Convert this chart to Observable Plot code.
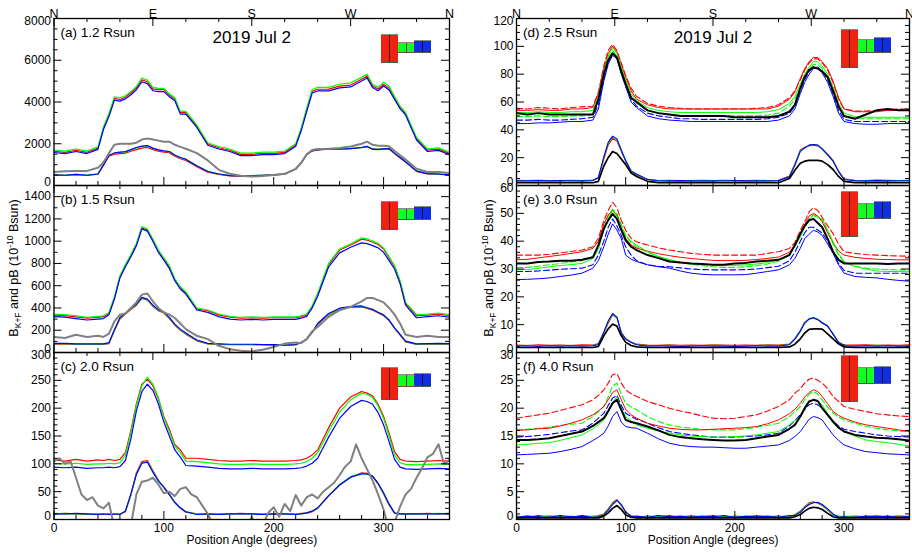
<!DOCTYPE html>
<html><head><meta charset="utf-8">
<script src="https://cdn.jsdelivr.net/npm/d3@7"></script>
<script src="https://cdn.jsdelivr.net/npm/@observablehq/plot@0.6"></script>
<style>
body{margin:0;background:#fff;font-family:"Liberation Sans",Arial,sans-serif;}
#wrap{position:relative;width:912px;height:553px;overflow:hidden;background:#fff;}
#wrap svg{position:absolute;left:0;top:0;}
.icon{position:absolute;box-sizing:border-box;border-top:1px solid #8a8a8a;border-bottom:1px solid #555;}
.icon i{position:absolute;left:50%;top:0;bottom:0;width:1px;background:rgba(0,0,0,0.65);}
</style></head><body><div id="wrap"></div>
<script>
// ---------- position-angle grids ----------
const XL = [0,10,20,30,40, 45,50,55,60,65,70,75,80,85,90,95,100,105,110,115,120, 130,140,150,160,170,180,190,200,210,220, 225,230,235,240, 250,260,270,280, 285,290,295,300,305,310,315,320, 330,340,350,360];
const XR = [0,10,20,30,40,50,60,70, 75,80,84,88,92,96,100,105,110, 120,130,140,150,160,170,180,190,200,210,220,230,240,250, 255,260,264,268,272,276,280,285,290,295,300, 310,320,330,340,350,360];
const X5 = [0,5,10,15,20,25,30,35,40,45,50,55,60,65,70,75,80,85,90,95,100,105,110,115,120,125,130,135,140,145,150,155,160,165,170,175,180,185,190,195,200,205,210,215,220,225,230,235,240,245,250,255,260,265,270,275,280,285,290,295,300,305,310,315,320,325,330,335,340,345,350,355,360];

// ---------- (a) 1.2 Rsun ----------
const aR = [1640,1590,1690,1590,1790, 2740,3380,4170,4120,4230,4430,4680,5060,4970,4630,4590,4590,4340,4140,3490,3490, 2840,1990,1810,1690,1490,1490,1540,1540,1590,1940, 2690,3620,4510,4610, 4620,4760,4810,5090, 5240,4770,4620,4850,4660,4200,3740,3440, 2240,1690,1740,1540];
const aG = [1700,1650,1750,1650,1850, 2800,3450,4250,4200,4300,4500,4750,5150,5050,4700,4650,4650,4400,4200,3550,3550, 2900,2050,1870,1750,1550,1550,1600,1600,1650,2000, 2750,3700,4600,4700, 4700,4850,4920,5180, 5330,4850,4700,4950,4750,4270,3800,3500, 2300,1750,1800,1600];
const aB = [1580,1530,1630,1530,1730, 2680,3300,4090,4040,4150,4350,4590,4970,4880,4540,4500,4500,4250,4060,3420,3420, 2780,1930,1750,1630,1430,1430,1480,1480,1530,1880, 2620,3540,4430,4530, 4530,4680,4720,5010, 5150,4690,4540,4770,4580,4120,3680,3380, 2180,1630,1680,1480];
const aLR = [500,480,520,480,540, 960,1400,1500,1530,1550,1640,1720,1790,1820,1720,1650,1600,1570,1400,1280,1200, 900,640,530,460,450,460,480,500,540,780, 1070,1470,1650,1700, 1740,1740,1760,1810, 1860,1730,1720,1740,1760,1530,1320,1120, 680,560,540,500];
const aLG = [520,500,540,500,560, 1000,1450,1550,1580,1600,1700,1800,1870,1900,1780,1700,1650,1620,1450,1330,1250, 950,680,560,480,470,480,500,520,560,800, 1100,1500,1680,1720, 1760,1760,1780,1830, 1880,1750,1740,1760,1780,1550,1350,1150, 700,580,560,520];
const aLB = [510,490,530,490,550, 990,1440,1560,1600,1620,1720,1820,1890,1910,1790,1710,1660,1630,1460,1340,1260, 950,670,550,470,460,470,490,510,550,790, 1090,1490,1670,1710, 1750,1750,1770,1820, 1870,1740,1730,1750,1770,1540,1340,1140, 690,570,550,510];
const aGray = [650,680,700,700,850, 1100,1550,1950,2000,2000,2000,2050,2200,2250,2200,2150,2100,2100,1950,1850,1760, 1550,1200,750,560,470,430,450,500,560,800, 1080,1500,1700,1750, 1760,1800,1870,2000, 2100,1950,1900,1900,1880,1650,1450,1250, 800,650,650,600];

// ---------- (b) 1.5 Rsun ----------
const bR = [335,332,320,308,315, 322,350,490,680,780,870,970,1120,1100,1010,910,840,765,655,580,535, 392,375,338,318,308,312,308,312,312,312, 322,338,410,520, 790,920,965,1018, 1010,990,970,930,850,770,635,440, 332,336,345,332];
const bG = [345,340,330,315,325, 330,360,500,690,790,880,980,1130,1110,1020,920,850,780,660,590,545, 400,382,346,325,315,320,315,320,320,320, 330,345,420,530, 800,930,975,1030, 1020,1000,980,940,860,780,645,450, 340,345,355,340];
const bB = [322,318,305,292,300, 305,338,480,670,770,860,960,1110,1090,1000,900,830,755,645,570,525, 382,360,322,300,292,298,292,298,298,298, 308,325,400,505, 770,895,945,985, 978,960,940,900,825,750,620,425, 312,322,330,318];
const bLR = [76,77,72,72,72, 72,80,195,300,345,385,425,485,470,415,375,355,305,245,200,165, 105,77,72,70,70,70,68,66,63,68, 88,118,178,252, 340,390,405,410, 396,380,356,330,286,216,156,96, 72,75,77,75];
const bLG = [80,80,75,75,75, 75,85,200,310,350,390,430,490,475,420,380,360,310,250,205,170, 110,80,75,72,72,72,70,68,65,70, 90,120,180,257, 345,395,410,415, 400,385,360,335,290,220,160,100, 75,78,80,78];
const bLB = [82,82,78,77,77, 77,88,205,315,355,395,435,495,480,425,385,365,315,255,210,175, 112,82,77,74,74,74,72,70,67,72, 92,122,182,260, 350,398,412,418, 402,388,362,338,292,222,162,102, 78,80,82,80];
const bGray = [140,130,160,140,150, 140,170,280,340,350,400,450,520,530,460,400,360,340,310,260,210, 150,120,60,30,15,10,25,50,80,90, 85,120,190,230, 320,380,410,460, 490,490,470,450,400,340,260,160, 140,150,140,140];

// ---------- (c) 2.0 Rsun ----------
const cR = [107,105,108,105,107, 106,108,106,108,120,160,208,243,252,240,217,185,162,135,125,110, 110,108,106,105,105,106,105,105,105,106, 107,110,116,125, 165,200,220,230, 227,222,207,185,155,122,108,105, 104,105,106,105];
const cG = [101,100,101,99,100, 100,101,100,102,115,156,205,240,256,243,219,183,158,132,120,105, 104,102,100,99,99,100,99,99,99,100, 101,104,110,120, 158,193,215,227, 225,219,204,182,150,116,102,99, 98,99,100,99];
const cB = [94,93,94,92,93, 93,94,93,95,106,145,195,230,243,232,208,175,150,125,112,97, 96,94,92,91,91,92,91,91,91,92, 93,96,101,110, 148,182,203,214, 212,207,192,170,140,108,94,91, 90,91,92,91];
const cLR = [10,11,10,9,10, 9,10,9,10,14,44,84,104,106,88,71,57,44,30,20,13, 10,9,10,10,11,10,10,9,10,10, 11,11,14,20, 42,62,76,84, 83,77,64,46,26,11,10,9, 10,11,10,10];
const cLG = [11,10,10,10,10, 9,9,9,10,15,45,82,102,104,86,70,58,45,30,21,14, 10,10,10,10,10,10,10,10,10,10, 10,12,15,20, 43,63,77,83, 82,78,65,47,27,11,10,10, 10,10,11,10];
const cLB = [10,10,11,10,9, 10,9,10,9,15,46,81,101,103,85,69,58,45,31,21,14, 9,10,9,10,10,10,9,10,10,9, 10,12,15,21, 43,62,76,82, 82,78,65,48,28,12,10,10, 10,10,10,11];
// gray read on the 5-degree grid X5
const cGray = [105,110,100,105,75,45,35,40,25,20,30,-15,-30,-40,-10,45,68,70,75,63,47,50,42,55,58,45,40,25,10,-10,-30,-40,-25,-50,-30,-20,5,-20,-10,12,22,5,28,15,44,25,40,45,38,50,58,66,80,95,104,135,110,90,70,45,18,-20,-5,23,45,55,75,92,112,118,135,100,107];

// ---------- (d) 2.5 Rsun ----------
const dRS = [54,54,54.5,54,54,55,55,56, 66,84,95,100,96,87,78,68,62, 58,56,55,55,55,55,55,55,55,55,55,55,57,62, 67,77,84,89,92,92,89,84,75,63,55, 53,53,53,54,54,54];
const dRD = [55.5,55,56,55.5,55,56,56.5,57, 67,86,97,101.5,97,88,79,70,64, 59,57,56,55.5,55,55,55,55,55,55,55.5,56,58,63, 68,76,83,88,91,91,88,83,74,62,55, 53.5,53.5,54,54.5,55,55];
const dGS = [52.5,52.5,53,52.5,52.5,53,53,54, 64,82,93,99,95,85,76,66,61, 56,54,53,52.5,52.5,52.5,52.5,52.5,52.5,52.5,52.5,53,54.5,59, 64,73,80,85,89,89,86,80,71,59,52, 49.5,49,49,49,49,49];
const dGD = [49.5,49.5,50,49.5,49.5,50,50,51, 61,80,91,97,93,83,74,64,59, 54,52,51,50.5,50,50,50,50,50,50,50,50.5,52,57, 62,71,78,84,87,87,84,78,69,57,50, 48,48,48,48,48,48];
const dBS = [44.5,44.5,45,45,45.5,46,46,47, 55,75,87,93.5,91,80,71,60,56, 50,48,47,46.5,46,46,46,46,46,46,46,46,47,50, 55,66,74,80,84,84,81,74,64,52,46, 44.5,44,44,44.5,44.5,44.5];
const dBD = [47,47,47.5,47,47,47.5,48,49, 58,77,89,95,92,81,72,62,57, 52,50,49,48,48,47.5,47.5,47.5,47.5,47.5,47.5,48,49,52, 57,68,76,82,85,85,82,76,66,54,47.5, 46,46,46,46,46,46];
const dK = [52,51,52,51,51,51,51,51, 62,80,90,95,92,82,73,63,60, 54,52,51,50,50,50,50,50,49,49,49,49,50,53, 58,70,78,83,85,84,82,78,68,57,50, 48,51,54,55,54,54];
const dLR = [3.8,3.5,3.7,3.6,3.4,3.8,3.6,4, 5.2,19,29,34,32,24.5,17.5,9.5,7.5, 4.3,3.6,3.7,3.5,3.6,3.7,3.5,3.8,3.6,3.5,3.7,3.6,3.8,6.8, 15.5,25.5,27.5,28.5,29,28.5,26,22.5,18,10.5,4.8, 3.8,3.6,3.9,3.7,3.6,3.8];
const dLG = [3.5,3.6,3.4,3.5,3.5,3.6,3.5,3.8, 5.5,20,30,35,33,25,18,10,8, 4.5,3.5,3.5,3.6,3.4,3.5,3.5,3.6,3.5,3.4,3.5,3.5,3.6,6.5, 15,25,27,29,29.5,29,26,22,17.5,10,4.5, 3.5,3.6,3.5,3.4,3.5,3.6];
const dLB = [3.3,3.4,3.6,3.3,3.5,3.4,3.3,3.6, 5.8,20.5,31,35.5,33.5,25.5,18,10.5,8.2, 4.4,3.4,3.3,3.5,3.3,3.4,3.3,3.4,3.5,3.3,3.4,3.3,3.5,6.2, 14.5,24.5,27,29,29.5,29,26.5,22,17.5,10,4.3, 3.4,3.3,3.5,3.3,3.4,3.4];
const dLK = [2,2,2,2,2,2,2,2, 3,14,20,24.5,23,19,15,9,6.5, 3,2,2,2,2,2,2,2,2,2,2,2,2,5, 11,16,17.5,18,18,18,17.5,15,11.5,6.5,3, 2,2,2,2,2,2];

// ---------- (e) 3.0 Rsun ----------
const eRS = [33.3,33.5,34,34.5,35,35.6,36.2,37.4, 40,46.2,49.5,51,49.5,45,41,38.6,37.5, 36.4,35.5,34.8,34.2,33.8,33.4,33.1,33,33,33.1,33.4,33.8,34.3,36, 38.5,42.5,46,49,50,49,47,43,39.5,36.5,35, 34.2,33.8,33.5,33.4,33.3,33.3];
const eRD = [35,35,35,35.3,35.8,36.3,36.8,38, 41,47.4,51,54,52,47.5,43.9,41,39.8, 38.6,37.6,36.8,36.2,35.6,35.3,35,35,35,35,35,35.6,36.2,37.4, 39.5,43.9,47,50.5,52,51,48.6,45.5,42.7,39,36.2, 35.6,35.2,35,34.8,34.7,34.6];
const eGS = [29.7,29.8,30.2,30.8,31.2,31.6,32,33.8, 37,43.9,48,51,49,45,42.1,40,38.6, 36.2,34.5,33.3,32.5,32,31.7,31.5,31.3,31.3,31.5,31.8,32.3,33.3,35.3, 38,41.5,45,48,49.2,48.5,48,44,39.8,35.5,32.7, 30.9,30,29.3,29.1,29.1,29];
const eGD = [30.5,30.6,31,31.5,32,32.5,33,34.5, 38,45,49,51.5,50,46,42,39.5,38, 36,34.5,33.3,32.3,31.7,31.2,30.8,30.6,30.6,30.8,31.2,31.8,32.8,35, 38.2,42,45.5,48,49.5,49,47.5,43.5,39,35,32.5, 31,30.3,30,29.8,29.7,29.6];
const eBS = [26.2,26.3,26.5,26.8,27.3,27.8,28.5,30.3, 33,38,42.5,46.2,44,40.9,35,33.5,32.7, 31.5,30.8,30.3,29.3,28.5,28.1,27.9,27.9,27.9,28,28.5,29.1,29.7,31.5, 33.8,37.5,40.9,42.5,43.9,43.3,42.1,39,35.6,31.5,28.5, 27.3,27,26.8,26.3,25.9,25.6];
const eBD = [29.1,29.1,29.3,29.6,29.9,30.1,30.3,31.5, 35,40,45,48,45.5,42,38,35,33, 31.5,31,30.8,30.4,30,29.8,29.7,29.7,29.7,29.8,30,30.5,31,33, 36,40,43,45,45,44,43,40,36,32,29.5, 28.5,28.5,28.5,28.5,28.5,28.5];
const eK = [32,32,32.5,32.7,33,33,33.3,34.2, 38.6,44.5,47.5,49.8,48,44,40.3,38,36.8, 35,33.9,32.7,32.3,32,31.8,31.5,31.5,32,32.2,32.7,33,33.3,35, 38.6,42.7,45.5,47.5,48,46.5,45,40.9,36.2,33.3,32, 32,32,32,31.8,32,32];
const eLR = [2.7,2.5,2.8,2.6,2.7,2.5,2.8,2.7, 3.2,7,10.5,13.5,12.5,7.2,5,3.8,3, 2.7,2.6,2.8,2.6,2.7,2.6,2.8,2.7,2.6,2.7,2.6,2.8,2.7,3, 5,8,11,12,12.4,11.8,10.6,9.4,6.5,3.8,2.7, 2.7,2.8,2.6,2.7,2.6,2.8];
const eLG = [2.5,2.6,2.4,2.5,2.5,2.6,2.5,2.5, 3,7.2,11,13.8,12.5,7,4.9,3.7,2.9, 2.5,2.5,2.6,2.4,2.5,2.5,2.6,2.5,2.4,2.5,2.5,2.6,2.5,2.9, 4.9,7.8,10.7,12.2,12.6,12,10.8,9.6,6.7,3.7,2.6, 2.5,2.5,2.6,2.5,2.4,2.5];
const eLB = [2.3,2.4,2.2,2.4,2.3,2.4,2.3,2.4, 2.9,7.4,11.3,14,12.7,7,4.8,3.6,2.8, 2.3,2.4,2.3,2.2,2.3,2.4,2.3,2.3,2.2,2.3,2.4,2.3,2.3,2.8, 4.8,7.6,10.5,12,12.5,11.8,10.7,9.5,6.6,3.6,2.4, 2.3,2.4,2.3,2.4,2.3,2.3];
const eLK = [1.8,1.8,1.8,1.8,1.8,1.8,1.8,1.8, 2.2,6,8.5,10.2,9.5,6,3.7,2.5,2, 1.8,1.8,1.8,1.8,1.8,1.8,1.8,1.8,1.8,1.8,1.8,1.8,1.8,2, 3,4.9,7,8.3,8.5,8.5,8.4,6.7,4.9,3.1,2, 1.8,1.8,1.8,1.8,1.8,1.8];

// ---------- (f) 4.0 Rsun ----------
const fRS = [16,16.1,16.3,16.4,16.8,17.3,17.9,18.8, 19.5,20.3,21.5,22.8,23.3,21.5,19.8,18.8,18.2, 17.3,16.8,16.4,16.2,16.1,16.1,16.2,16.3,16.4,16.5,16.7,17.2,17.9,19, 19.8,20.9,22,22.8,23.3,23,22.1,20.8,19.4,18.7,18.2, 17.5,17,16.7,16.4,16.1,15.8];
const fRD = [18.2,18.5,18.8,19.1,19.6,20.1,20.6,21.5, 22.3,23.3,24.5,26,26.2,24.5,23.3,22.6,22.1, 21.2,20.6,20,19.5,19.1,18.6,18.2,18.1,18.2,18.5,18.8,19.5,20.3,21.5, 22.7,23.5,24.5,25.2,25.4,25,24.5,23.5,22.1,21.2,20.3, 19.8,19.4,19,18.8,18.6,18.5];
const fGS = [13.4,13.5,13.7,13.8,14.2,14.7,15.2,16.3, 17,17.9,19.2,21,22,20,18.5,17.7,17, 16.4,15.9,15.5,15.2,15,14.9,14.8,14.8,14.9,15,15.2,15.5,15.8,17, 17.8,18.5,19.8,21,21.5,21.2,20.6,19,17.3,16.5,15.8, 15,14.3,14,13.8,13.5,13.2];
const fGD = [16.1,16.2,16.4,16.6,16.9,17.1,17.3,18.5, 19.4,20.3,22,24,24.5,22.5,20.9,20.2,19.7, 18.5,17.6,17,16.6,16.4,16.2,16.1,16.1,16.1,16.3,16.6,16.9,17.3,18.5, 19.4,20.3,21.5,22.5,23,22.5,21.5,20.2,19.1,18.4,17.9, 17.3,16.7,16.4,16.1,15.9,15.8];
const fBS = [11.6,11.7,11.8,11.9,12.2,12.6,13.1,14.2, 14.8,15.5,16.8,18.5,19.4,17.5,16.7,16.5,16.4, 15.5,14.5,13.7,13.3,13.1,13,13,12.9,12.8,12.8,13,13.2,13.4,14.2, 14.9,15.8,16.9,18,18.5,18.3,17.9,16.5,15.2,14.2,13.4, 12.7,12.2,12,11.8,11.7,11.6];
const fBD = [14.8,14.9,15.1,15.3,15.6,15.9,16.1,17.3, 18.2,19.1,20.5,21.8,22.3,20.5,19.1,18.5,18, 17.3,16.5,15.8,15.5,15.2,15,14.8,14.8,14.8,14.9,15,15.2,15.5,16.8, 17.8,18.8,19.8,20.6,20.9,20.6,20,19,17.6,16.8,16.2, 15.8,15.5,15.2,15,14.9,14.8];
const fK = [14.3,14.3,14.4,14.6,15,15.4,15.8,16.8, 17.5,18.2,19.5,20.9,21.5,19.7,17.9,17.5,17.3, 16.7,16,15.2,14.8,14.6,14.4,14.3,14.2,14.2,14.3,14.6,14.9,15.2,16.3, 17,18.5,20,21.2,21.5,21.3,20,18.8,17.6,16.5,15.8, 15.2,14.9,14.7,14.6,14.4,14.2];
const fLR = [0.6,0.4,0.7,0.5,0.6,0.4,0.7,0.5, 0.7,1,1.9,3,3.6,2.5,1.2,0.7,0.4, 0.6,0.5,0.7,0.4,0.6,0.5,0.7,0.4,0.6,0.5,0.7,0.5,0.6,0.5, 0.9,1.5,2.3,3,3.2,2.9,2.5,1.7,0.8,0.6,0.5, 0.6,0.5,0.7,0.4,0.6,0.5];
const fLG = [0.5,0.6,0.4,0.7,0.5,0.6,0.4,0.6, 0.6,0.9,1.8,2.8,3.5,2.6,1.3,0.6,0.5, 0.5,0.6,0.4,0.5,0.7,0.5,0.4,0.6,0.5,0.5,0.6,0.4,0.5,0.6, 0.8,1.4,2.2,2.8,3.1,3,2.6,1.8,0.9,0.5,0.6, 0.5,0.4,0.6,0.5,0.7,0.5];
const fLB = [0.4,0.6,0.5,0.4,0.7,0.5,0.6,0.4, 0.5,0.8,1.7,2.7,3.4,2.7,1.4,0.5,0.6, 0.4,0.7,0.5,0.6,0.4,0.6,0.5,0.7,0.4,0.6,0.5,0.6,0.4,0.7, 0.7,1.3,2.1,2.7,3,3.1,2.7,1.9,1,0.4,0.5, 0.4,0.6,0.5,0.6,0.4,0.6];
const fLK = [0.3,0.3,0.3,0.3,0.3,0.3,0.3,0.3, 0.3,0.6,1.2,2,2.5,1.8,0.8,0.4,0.3, 0.3,0.3,0.3,0.3,0.3,0.3,0.3,0.3,0.3,0.3,0.3,0.3,0.3,0.3, 0.5,0.9,1.5,2,2.2,2.1,1.8,1.1,0.5,0.3,0.3, 0.3,0.3,0.3,0.3,0.3,0.3];

// ---------- labels ----------
const panelLabels = ["(a) 1.2 Rsun","(b) 1.5 Rsun","(c) 2.0 Rsun","(d) 2.5 Rsun","(e) 3.0 Rsun","(f) 4.0 Rsun"];
const dateTitle = "2019 Jul 2";
const dirLabels = ["N","E","S","W","N"];
const dirAngles = [0,90,180,270,360];
const xTickLabels = [0,100,200,300];
const xTitle = "Position Angle (degrees)";

// ---------- layout / style ----------
const RED = "#ff0000", GREEN = "#00ff00", BLUE = "#0000ff", GRAY = "#808080", BLACK = "#000000";
const COLS = [{x0:53.5, x1:449},{x0:516, x1:909}];
const ROWS = [{y0:18, y1:185},{y0:185, y1:352},{y0:352, y1:519}];
const FONT = "'Liberation Sans', Arial, Helvetica, sans-serif";

const leftSeries = (R,G,B,LR,LG,LB,Gy,gx) => [
  {y:R,c:RED,w:1.2},{y:G,c:GREEN,w:1.2},{y:B,c:BLUE,w:1.2},
  {y:LR,c:RED,w:1.2},{y:LG,c:GREEN,w:1.2},{y:LB,c:BLUE,w:1.2},
  {y:Gy,x:gx,c:GRAY,w:2}];
const rightSeries = (RS,RD,GS,GD,BS,BD,K,LR,LG,LB,LK) => [
  {y:RD,c:RED,w:1.1,dash:"6,3"},{y:GD,c:GREEN,w:1.1,dash:"6,3"},{y:BD,c:BLUE,w:1.1,dash:"6,3"},
  {y:RS,c:RED,w:1},{y:GS,c:GREEN,w:1},{y:BS,c:BLUE,w:1},
  {y:LR,c:RED,w:1.1},{y:LG,c:GREEN,w:1.1},{y:LB,c:BLUE,w:1.1},
  {y:K,c:BLACK,w:2},{y:LK,c:BLACK,w:1.7}];

const panels = [
  {col:0,row:0,x:XL,domain:[0,8000],major:2000,minor:500,series:leftSeries(aR,aG,aB,aLR,aLG,aLB,aGray),icon:[16,45,24,35,22,35]},
  {col:0,row:1,x:XL,domain:[0,1500],major:200,minor:100,series:leftSeries(bR,bG,bB,bLR,bLG,bLB,bGray),icon:[16,45,23,35,21,35]},
  {col:0,row:2,x:XL,domain:[0,300],major:50,minor:10,series:leftSeries(cR,cG,cB,cLR,cLG,cLB,cGray,X5),icon:[15,48,22,35,21,35]},
  {col:1,row:0,x:XR,domain:[0,120],major:20,minor:5,series:rightSeries(dRS,dRD,dGS,dGD,dBS,dBD,dK,dLR,dLG,dLB,dLK),icon:[11,50,21,35,19,35]},
  {col:1,row:1,x:XR,domain:[0,60],major:10,minor:2,series:rightSeries(eRS,eRD,eGS,eGD,eBS,eBD,eK,eLR,eLG,eLB,eLK),icon:[6,52,18,34,16,34]},
  {col:1,row:2,x:XR,domain:[0,30],major:5,minor:1,series:rightSeries(fRS,fRD,fGS,fGD,fBS,fBD,fK,fLR,fLG,fLB,fLK),icon:[3,50,15,32,14,32]}
];

const wrap = document.getElementById("wrap");

panels.forEach((p, k) => {
  const c = COLS[p.col], r = ROWS[p.row];
  const W = c.x1 - c.x0, H = r.y1 - r.y0;
  const marks = [];
  for (const s of p.series) {
    const xs = s.x || p.x;
    const rows = s.y.map((v, i) => ({a: xs[i], v}));
    marks.push(Plot.line(rows, {x:"a", y:"v", stroke:s.c, strokeWidth:s.w, strokeDasharray:s.dash, clip:true, strokeLinejoin:"round"}));
  }
  marks.push(Plot.frame({stroke:"#000", strokeWidth:1.3}));
  const eps = 1e-9;
  const yMaj = d3.range(p.domain[0], p.domain[1] + eps, p.major);
  const yMin = d3.range(p.domain[0], p.domain[1] + eps, p.minor).filter(v => !yMaj.some(m => Math.abs(m - v) < eps));
  const yLo = yMaj.filter(v => v === p.domain[0]);
  const yHi = yMaj.filter(v => v === p.domain[1]);
  const yMid = yMaj.filter(v => v !== p.domain[0] && v !== p.domain[1]);
  const lab = {y:d=>d, text:d=>String(d), frameAnchor:"left", dx:-3, textAnchor:"end", fontSize:12};
  marks.push(
    Plot.tickY(yMaj, {y:d=>d, insetRight:W-8, stroke:"#000"}),
    Plot.tickY(yMaj, {y:d=>d, insetLeft:W-8, stroke:"#000"}),
    Plot.tickY(yMin, {y:d=>d, insetRight:W-4, stroke:"#000"}),
    Plot.tickY(yMin, {y:d=>d, insetLeft:W-4, stroke:"#000"}),
    Plot.text(yMid, lab),
    Plot.text(yLo, {...lab, dy:-3}),
    Plot.text(yHi, {...lab, dy:3})
  );
  const xMin = d3.range(0, 361, 20).filter(v => v % 100 !== 0);
  const topMin = d3.range(0, 361, 30).filter(v => v % 90 !== 0);
  marks.push(
    Plot.tickX(xTickLabels, {x:d=>d, insetTop:H-8, stroke:"#000"}),
    Plot.tickX(xMin, {x:d=>d, insetTop:H-4, stroke:"#000"}),
    Plot.tickX(dirAngles, {x:d=>d, insetBottom:H-8, stroke:"#000"}),
    Plot.tickX(topMin, {x:d=>d, insetBottom:H-4, stroke:"#000"}),
    Plot.text([panelLabels[k]], {frameAnchor:"top-left", dx:6.5, dy:9, textAnchor:"start", fontSize:13.5})
  );
  if (p.row === 0) {
    marks.push(
      Plot.text(dirLabels, {x:(d,i)=>dirAngles[i], text:d=>d, frameAnchor:"top", dy:-9, fontSize:12.5}),
      Plot.text([dateTitle], {x:180, frameAnchor:"top", dy:12, fontSize:17})
    );
  }
  if (p.row === 2) {
    marks.push(
      Plot.text(xTickLabels, {x:d=>d, text:d=>String(d), frameAnchor:"bottom", dy:12, fontSize:12}),
      Plot.text([xTitle], {x:180, frameAnchor:"bottom", dy:24, fontSize:12})
    );
  }
  const svg = Plot.plot({
    width:912, height:553,
    marginLeft:c.x0, marginRight:912 - c.x1, marginTop:r.y0, marginBottom:553 - r.y1,
    x:{domain:[0,360], axis:null},
    y:{domain:p.domain, axis:null},
    style:{background:"transparent", overflow:"visible", fontFamily:FONT, color:"#000"},
    marks
  });
  wrap.appendChild(svg);

  // filter glyph (red / green / blue boxes) in upper right
  const [rt, rb, gt, gb, bt, bb] = p.icon;
  const boxes = [
    {l:c.x1-68, t:rt, b:rb, col:"#ee2211"},
    {l:c.x1-51.5, t:gt, b:gb, col:"#11ff22"},
    {l:c.x1-35, t:bt, b:bb, col:"#1030e0"}];
  boxes.forEach(bx => {
    const d = document.createElement("div");
    d.className = "icon";
    d.style.left = bx.l + "px";
    d.style.top = (r.y0 + bx.t) + "px";
    d.style.width = "16.5px";
    d.style.height = (bx.b - bx.t) + "px";
    d.style.background = bx.col;
    d.appendChild(document.createElement("i"));
    wrap.appendChild(d);
  });
});

// y-axis titles
const ns = "http://www.w3.org/2000/svg";
const ov = document.createElementNS(ns, "svg");
ov.setAttribute("width", 912); ov.setAttribute("height", 553);
ov.style.fontFamily = FONT;
[{x:18, y:268},{x:493, y:268}].forEach(pos => {
  const t = document.createElementNS(ns, "text");
  t.setAttribute("transform", `translate(${pos.x},${pos.y}) rotate(-90)`);
  t.setAttribute("text-anchor", "middle");
  t.setAttribute("font-size", "12.5");
  t.innerHTML = 'B<tspan dy="3" font-size="8.5">K+F</tspan><tspan dy="-3"> and pB (10</tspan><tspan dy="-5" font-size="8.5">-10</tspan><tspan dy="5"> Bsun)</tspan>';
  ov.appendChild(t);
});
wrap.appendChild(ov);
</script></body></html>
